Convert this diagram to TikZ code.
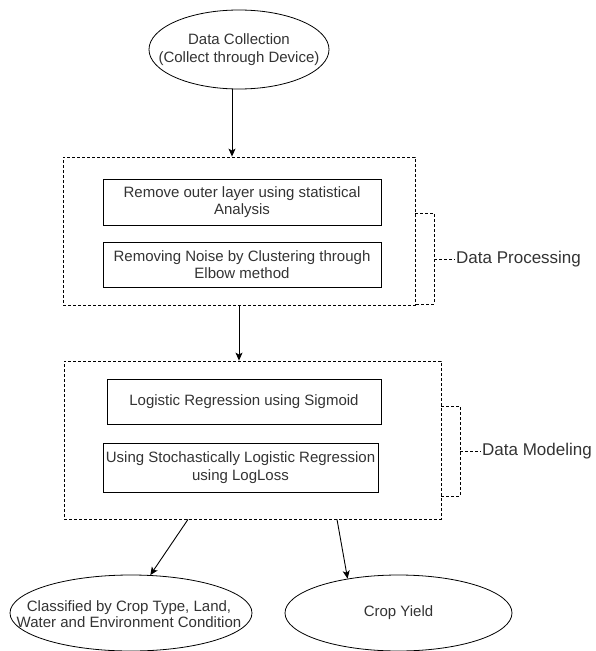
\documentclass[tikz,border=0pt]{standalone}
\usepackage{fontspec}
\setmainfont{Liberation Sans}
\usetikzlibrary{shapes.geometric,arrows.meta,calc}
\definecolor{txt}{HTML}{333333}
\begin{document}
\begin{tikzpicture}[x=1pt,y=-1pt,
  every node/.style={font=\fontsize{15}{17.5}\selectfont, text=txt},
  oval/.style={draw=black, line width=0.8pt, ellipse, inner sep=0pt},
  ovaltext/.style={align=center, inner sep=0pt},
  stepbox/.style={draw=black, line width=0.9pt, rectangle, inner sep=0pt, align=center},
  group/.style={draw=black, line width=0.8pt, dash pattern=on 3pt off 2pt, rectangle, inner sep=0pt},
  brk/.style={draw=black, line width=0.8pt, dash pattern=on 3pt off 2pt},
  side/.style={font=\fontsize{17}{20}\selectfont, anchor=west, inner sep=1pt},
  arr/.style={draw=black, line width=0.9pt, -{Stealth[length=8pt,width=7pt,inset=2pt]}}
]
\useasboundingbox (0,0) rectangle (595,651);

% top ellipse
\node[oval, minimum width=180pt, minimum height=79pt] (dc) at (239,49.5) {};
\node[ovaltext] (dct) at (dc.center) {Data Collection\\(Collect through Device)};

% processing group
\node[group, minimum width=352pt, minimum height=148pt] (g1) at (239,231) {};
\node[stepbox, minimum width=278pt, minimum height=46pt] (s1) at (242,202)
  {Remove outer layer using statistical\\Analysis};
\node[stepbox, minimum width=278pt, minimum height=45pt] (s2) at (242,264.5)
  {Removing Noise by Clustering through\\Elbow method};

% modeling group
\node[group, minimum width=377pt, minimum height=158pt] (g2) at (252.5,440) {};
\node[stepbox, minimum width=274pt, minimum height=45pt] (s3) at (244,401.5)
  {Logistic Regression using Sigmoid};
\node[stepbox, minimum width=275pt, minimum height=49pt] (s4) at (240.5,467.5)
  {Using Stochastically Logistic Regression\\using LogLoss};

% bottom ellipses
\node[oval, minimum width=242pt, minimum height=76pt] (cls) at (131,613) {};
\node[ovaltext, font=\fontsize{15}{15.5}\selectfont] (clst) at (129,614)
  {Classified by Crop Type, Land,\\Water and Environment Condition};
\node[oval, minimum width=227pt, minimum height=76pt] (yld) at (398.5,613) {};
\node[ovaltext] (yldt) at (yld.center) {Crop Yield};

% side labels with brackets
\coordinate (b1a) at (434,213);
\coordinate (b1b) at (434,304);
\coordinate (b1m) at (434,259);
\node[side] (dp) at (455,259) {Data Processing};
\draw[brk] (g1.east |- b1a) -- (b1a) -- (b1b) -- (g1.east |- b1b);
\draw[brk] (b1m) -- (dp.west);

\coordinate (b2a) at (460,406);
\coordinate (b2b) at (460,496);
\coordinate (b2m) at (460,451);
\node[side] (dm) at (481,451) {Data Modeling};
\draw[brk] (g2.east |- b2a) -- (b2a) -- (b2b) -- (g2.east |- b2b);
\draw[brk] (b2m) -- (dm.west);

% arrows
\draw[arr] ([xshift=-7pt]dc.south) -- ([xshift=-7pt]dc.south |- g1.north);
\draw[arr] (g1.south) -- (g1.south |- g2.north);
\draw[arr] ([xshift=-64.5pt]g2.south) -- (cls.63);
\draw[arr] ([xshift=84.5pt]g2.south) -- (yld.146);
\end{tikzpicture}
\end{document}
